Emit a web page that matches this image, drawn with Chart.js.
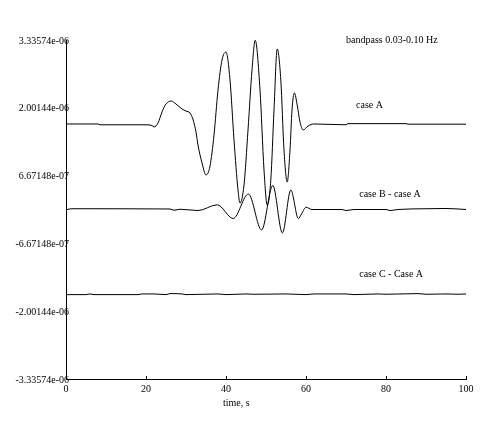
<!DOCTYPE html>
<html>
<head>
<meta charset="utf-8">
<script src="https://cdn.jsdelivr.net/npm/chart.js@4/dist/chart.umd.min.js"></script>
<style>
html,body{margin:0;padding:0;background:#fff;}
canvas{display:block;}
</style>
</head>
<body>
<canvas id="c" width="498" height="432"></canvas>
<script>
// values in units of 1e-6
const timeA = [0, 8, 8.5, 20, 21.5, 22, 23, 24, 25, 26.3, 27.5, 29, 30, 31, 31.8, 32.5, 33, 34, 35, 36, 37, 38, 39, 40, 41, 42, 43, 43.5, 44.5, 45.5, 46.5, 47.3, 48.5, 49.5, 50.3, 51.2, 52, 52.8, 53.7, 54.5, 55.3, 56, 56.5, 57.1, 57.8, 58.5, 59.3, 60.5, 62, 70, 70.5, 85, 85.5, 100];
const caseA = [1.683, 1.683, 1.667, 1.667, 1.653, 1.624, 1.702, 1.919, 2.076, 2.135, 2.076, 1.978, 1.938, 1.899, 1.761, 1.525, 1.269, 0.915, 0.679, 0.856, 1.466, 2.352, 2.942, 3.099, 2.549, 1.368, 0.384, 0.128, 0.482, 1.565, 2.745, 3.33, 2.352, 0.780, 0.088, 0.580, 1.958, 3.159, 2.549, 1.171, 0.541, 1.171, 1.958, 2.293, 2.056, 1.722, 1.565, 1.643, 1.683, 1.667, 1.690, 1.690, 1.679, 1.679];

const timeB = [0, 1.5, 26, 27, 28.5, 33, 37.8, 41.8, 45.6, 48.9, 51.7, 54.1, 56.2, 58.1, 58.9, 60, 61.5, 69, 70, 72, 80, 81, 83, 90, 95, 100];
const caseBminusA = [-0.005, 0.015, 0.01, -0.015, 0.005, -0.02, 0.092, -0.177, 0.305, -0.403, 0.472, -0.462, 0.384, -0.177, -0.085, 0.045, 0.0, 0.0, -0.02, 0.0, 0.0, -0.02, 0.0, 0.015, 0.02, 0.0];

const timeC = [0, 5, 6, 7, 18, 19, 22, 25, 26, 29, 30, 38, 40, 45, 47, 55, 60, 62, 70, 72, 78, 80, 88, 90, 95, 98, 100];
const caseCminusA = [-1.675, -1.675, -1.662, -1.675, -1.675, -1.662, -1.662, -1.675, -1.655, -1.662, -1.675, -1.662, -1.675, -1.662, -1.668, -1.662, -1.675, -1.662, -1.662, -1.675, -1.662, -1.668, -1.655, -1.668, -1.662, -1.668, -1.662];

const yTickValues = [3.33574, 2.00144, 0.667148, -0.667148, -2.00144, -3.33574];
const yTickLabels = ["3.33574e-06", "2.00144e-06", "6.67148e-07", "-6.67148e-07", "-2.00144e-06", "-3.33574e-06"];
const xTickValues = [0, 20, 40, 60, 80, 100];

const annotations = [
  {text: "bandpass 0.03-0.10 Hz", t: 70, v: 3.27},
  {text: "case A", t: 72.5, v: 1.99},
  {text: "case B - case A", t: 73.3, v: 0.25},
  {text: "case C - Case A", t: 73.3, v: -1.32}
];
const xTitle = {text: "time, s", t: 39.25};

const FONT = "'Liberation Serif', 'DejaVu Serif', serif";

function pts(ts, vs) { return ts.map((t, i) => ({x: t, y: vs[i]})); }

// measure widest y label so mirrored, right-aligned labels can overlap the axis line
const mctx = document.createElement('canvas').getContext('2d');
mctx.font = "10px " + FONT;
const widestY = Math.max(...yTickLabels.map(s => mctx.measureText(s).width));

const textPlugin = {
  id: 'texts',
  afterDraw(chart) {
    const ctx = chart.ctx;
    const xs = chart.scales.x, ys = chart.scales.y;
    ctx.save();
    ctx.fillStyle = '#000';
    ctx.font = "10px " + FONT;
    ctx.textAlign = 'left';
    ctx.textBaseline = 'alphabetic';
    annotations.forEach(a => {
      ctx.fillText(a.text, xs.getPixelForValue(a.t), ys.getPixelForValue(a.v));
    });
    ctx.fillText(xTitle.text, xs.getPixelForValue(xTitle.t), chart.chartArea.bottom + 27);
    ctx.restore();
  }
};

const ds = (label, data) => ({
  label, data,
  borderColor: '#000', borderWidth: 1, pointRadius: 0,
  cubicInterpolationMode: 'monotone', fill: false
});

new Chart(document.getElementById('c'), {
  type: 'line',
  data: {
    datasets: [
      ds('case A', pts(timeA, caseA)),
      ds('case B - case A', pts(timeB, caseBminusA)),
      ds('case C - Case A', pts(timeC, caseCminusA))
    ]
  },
  options: {
    responsive: false,
    animation: false,
    devicePixelRatio: 1,
    layout: {padding: {left: 0, top: 40, right: 32, bottom: 0}},
    plugins: {legend: {display: false}, tooltip: {enabled: false}, title: {display: false}},
    scales: {
      x: {
        type: 'linear', min: 0, max: 100,
        afterBuildTicks: s => { s.ticks = xTickValues.map(v => ({value: v})); },
        afterFit: s => { s.height = 53; },
        grid: {drawOnChartArea: false, drawTicks: true, tickLength: -3, color: '#000', lineWidth: 1},
        border: {display: true, color: '#000', width: 1},
        ticks: {color: '#000', font: {family: FONT, size: 10}, padding: 7, maxRotation: 0, autoSkip: false},
        title: {display: false}
      },
      y: {
        type: 'linear', min: -3.33574, max: 3.33574,
        afterBuildTicks: s => { s.ticks = yTickValues.map(v => ({value: v})); },
        afterFit: s => { s.width = 66; },
        grid: {drawOnChartArea: false, drawTicks: false},
        border: {display: true, color: '#000', width: 1},
        ticks: {
          color: '#000', font: {family: FONT, size: 10},
          mirror: true, crossAlign: 'far', padding: 3 - widestY,
          labelOffset: 1, autoSkip: false,
          callback: (v, i) => yTickLabels[i]
        }
      }
    }
  },
  plugins: [textPlugin]
});
</script>
</body>
</html>
